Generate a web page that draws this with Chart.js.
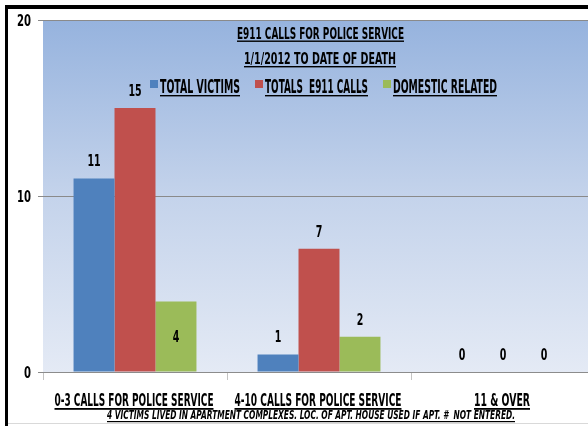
<!DOCTYPE html>
<html>
<head>
<meta charset="utf-8">
<script src="https://cdn.jsdelivr.net/npm/chart.js@4.4.1/dist/chart.umd.min.js"></script>
<style>
  html, body { margin: 0; padding: 0; background: #ffffff; overflow: hidden; width: 588px; height: 426px; }
  #wrap { position: absolute; left: 0; top: 0; width: 596px; height: 426px; }
</style>
</head>
<body>
<div id="wrap"><canvas id="c" width="596" height="426"></canvas></div>
<script>
// ---- data ----
const categories = ['0-3 CALLS FOR POLICE SERVICE', '4-10 CALLS FOR POLICE SERVICE', '11 & OVER'];
const seriesNames = ['TOTAL VICTIMS', 'TOTALS  E911 CALLS', 'DOMESTIC RELATED'];
const totalVictims = [11, 1, 0];
const totalE911Calls = [15, 7, 0];
const domesticRelated = [4, 2, 0];
const titleLines = ['E911 CALLS FOR POLICE SERVICE', '1/1/2012 TO DATE OF DEATH'];
const footnote = '4 VICTIMS LIVED IN APARTMENT COMPLEXES. LOC. OF APT. HOUSE USED IF APT. #  NOT ENTERED.';
const yTickValues = [0, 10, 20];

// ---- style ----
const FAM = '"Liberation Sans Narrow", "DejaVu Sans Condensed", "Liberation Sans", sans-serif';
const colors = ['#4F81BD', '#C0504D', '#9BBB59'];

function drawFitted(ctx, text, left, baseline, width, size, style, underline, ulThick) {
  ctx.save();
  ctx.font = style + ' ' + size + 'px ' + FAM;
  const w = ctx.measureText(text).width;
  ctx.translate(left, baseline);
  ctx.scale(width / w, 1);
  ctx.textAlign = 'left';
  ctx.textBaseline = 'alphabetic';
  ctx.fillStyle = '#000';
  ctx.fillText(text, 0, 0);
  ctx.restore();
  if (underline) {
    ctx.fillStyle = '#000';
    ctx.fillRect(left, baseline + 2, width, ulThick || 1.4);
  }
}

const decor = {
  id: 'decor',
  beforeDraw(chart) {
    const ctx = chart.ctx, a = chart.chartArea;
    ctx.save();
    ctx.fillStyle = '#fff';
    ctx.fillRect(0, 0, chart.width, chart.height);
    const g = ctx.createLinearGradient(0, a.top, 0, a.bottom);
    g.addColorStop(0, '#96b3de');
    g.addColorStop(0.5, '#c4d3eb');
    g.addColorStop(1, '#e4eaf5');
    ctx.fillStyle = g;
    ctx.fillRect(a.left, a.top, a.right - a.left, a.bottom - a.top);
    ctx.restore();
  },
  afterDatasetsDraw(chart) {
    const ctx = chart.ctx;
    const inside = chart.options.plugins.decor.inside;
    chart.data.datasets.forEach((ds, di) => {
      const meta = chart.getDatasetMeta(di);
      meta.data.forEach((bar, i) => {
        const txt = String(ds.data[i]);
        let cy;
        if (inside.some(p => p[0] === di && p[1] === i)) {
          cy = (bar.y + bar.base) / 2;
        } else {
          cy = bar.y - 17.5;
        }
        const w = txt.length * 6.6;
        drawFitted(ctx, txt, bar.x - w / 2, cy + 5.5, w, 15, 'bold', false);
      });
    });
  },
  afterDraw(chart) {
    const ctx = chart.ctx;
    // y tick labels
    const ys = chart.scales.y;
    ys.ticks.forEach(t => {
      const txt = String(t.value);
      const w = txt.length * 7;
      drawFitted(ctx, txt, 31 - w, ys.getPixelForValue(t.value) + 6, w, 16, 'bold', false);
    });
    // title
    drawFitted(ctx, titleLines[0], 237, 38.5, 167, 16.5, 'bold', true, 1.4);
    drawFitted(ctx, titleLines[1], 244, 64, 152, 16.5, 'bold', true, 1.4);
    // legend
    const leg = [[150, 160, 80], [255, 265, 103], [383, 393, 104]];
    chart.data.datasets.forEach((ds, i) => {
      ctx.fillStyle = ds.backgroundColor;
      ctx.fillRect(leg[i][0], 80, 8, 8);
      drawFitted(ctx, ds.label, leg[i][1], 93, leg[i][2], 19, 'bold', true, 1.4);
    });
    // x labels
    const xs = chart.scales.x;
    const widths = [159, 167, 56];
    chart.data.labels.forEach((lab, i) => {
      const cx = xs.getPixelForValue(i) - 1;
      drawFitted(ctx, lab, cx - widths[i] / 2, 406, widths[i], 18, 'bold', true, 1.8);
    });
    // footnote
    drawFitted(ctx, footnote, 107, 419, 408, 12.5, 'italic bold', true, 1.2);
    // bottom line
    ctx.fillStyle = '#d9d9d9';
    ctx.fillRect(8, 423, 590, 1);
    // frame
    ctx.fillStyle = '#000';
    ctx.fillRect(5, 5, 3, 421);
    ctx.fillRect(5, 5, 595, 4);
  }
};

new Chart(document.getElementById('c'), {
  type: 'bar',
  data: {
    labels: categories,
    datasets: [
      { label: seriesNames[0], data: totalVictims, backgroundColor: colors[0] },
      { label: seriesNames[1], data: totalE911Calls, backgroundColor: colors[1] },
      { label: seriesNames[2], data: domesticRelated, backgroundColor: colors[2] }
    ]
  },
  options: {
    responsive: false,
    animation: false,
    devicePixelRatio: 1,
    layout: { padding: { top: 20, left: 0, right: 1, bottom: 0 } },
    datasets: { bar: { categoryPercentage: 0.668, barPercentage: 1.0 } },
    plugins: {
      legend: { display: false },
      title: { display: false },
      tooltip: { enabled: false },
      decor: { inside: [[2, 0]] }
    },
    scales: {
      x: {
        grid: { offset: true, drawOnChartArea: false, drawTicks: true, tickLength: 8, color: '#c4c4c4' },
        border: { display: true, color: '#8c8c8c', width: 1 },
        ticks: { display: false },
        afterFit(s) { s.height = 54; }
      },
      y: {
        min: 0, max: 20,
        afterBuildTicks(s) { s.ticks = yTickValues.map(v => ({ value: v })); },
        grid: { color: '#8a8a8a', tickLength: 5, drawTicks: true },
        border: { display: false },
        ticks: { display: false },
        afterFit(s) { s.width = 43; }
      }
    }
  },
  plugins: [decor]
});
</script>
</body>
</html>
